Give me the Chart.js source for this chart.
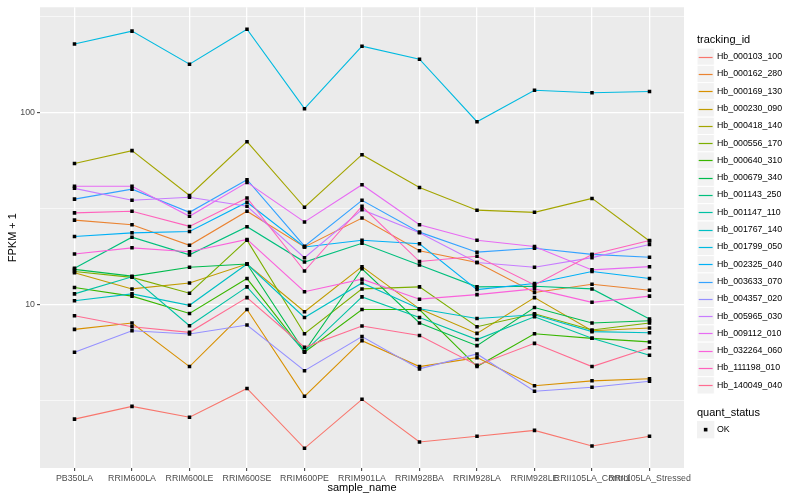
<!DOCTYPE html>
<html>
<head>
<meta charset="utf-8">
<script src="https://cdn.jsdelivr.net/npm/chart.js@4/dist/chart.umd.min.js"></script>
<style>
  html, body { margin: 0; padding: 0; background: #fff; }
  #wrap { width: 800px; height: 500px; }
</style>
</head>
<body>
<div id="wrap"><canvas id="fpkmChart" width="800" height="500"></canvas></div>
<script>
const sampleNames = ["PB350LA", "RRIM600LA", "RRIM600LE", "RRIM600SE", "RRIM600PE", "RRIM901LA",
    "RRIM928BA", "RRIM928LA", "RRIM928LE", "RRII105LA_Control", "RRII105LA_Stressed"];

const trackingIds = ["Hb_000103_100", "Hb_000162_280", "Hb_000169_130", "Hb_000230_090", "Hb_000418_140",
    "Hb_000556_170", "Hb_000640_310", "Hb_000679_340", "Hb_001143_250", "Hb_001147_110",
    "Hb_001767_140", "Hb_001799_050", "Hb_002325_040", "Hb_003633_070", "Hb_004357_020",
    "Hb_005965_030", "Hb_009112_010", "Hb_032264_060", "Hb_111198_010", "Hb_140049_040"];

// FPKM + 1 per sample
const hb000103_100 = [2.54, 2.96, 2.60, 3.67, 1.79, 3.22, 1.93, 2.07, 2.22, 1.84, 2.07];
const hb000162_280 = [27.6, 26.1, 20.4, 30.7, 20.0, 28.3, 19.1, 16.6, 11.6, 12.8, 11.9];
const hb000169_130 = [7.45, 8.04, 4.77, 9.45, 3.34, 6.51, 4.77, 5.31, 3.79, 4.02, 4.12];
const hb000230_090 = [14.7, 12.1, 13.0, 16.3, 9.20, 15.8, 9.53, 7.10, 10.9, 7.33, 7.57];
const hb000418_140 = [54.4, 63.5, 37.1, 70.7, 32.2, 60.5, 40.8, 31.1, 30.3, 35.8, 21.5];
const hb000556_170 = [14.9, 13.9, 11.5, 21.7, 7.07, 12.1, 12.4, 7.69, 8.98, 7.39, 8.04];
const hb000640_310 = [12.3, 11.1, 9.01, 13.7, 5.66, 9.45, 9.45, 4.77, 7.07, 6.69, 6.41];
const hb000679_340 = [15.3, 14.1, 15.7, 16.3, 5.71, 15.4, 8.04, 6.13, 9.68, 8.04, 8.26];
const hb001143_250 = [15.5, 22.5, 18.2, 25.5, 16.7, 20.9, 16.1, 12.4, 12.5, 12.1, 8.43];
const hb001147_110 = [11.4, 14.0, 7.78, 12.4, 5.71, 11.0, 8.59, 6.59, 8.67, 6.69, 5.46];
const hb001767_140 = [10.5, 11.4, 9.94, 16.3, 8.59, 13.0, 9.53, 8.49, 8.88, 7.25, 7.16];
const hb001799_050 = [228, 266, 179, 272, 105, 222, 190, 89.8, 131, 127, 129];
const hb002325_040 = [22.7, 23.7, 24.1, 34.2, 20.0, 21.7, 20.8, 12.0, 12.9, 14.9, 13.7];
const hb003633_070 = [35.5, 40.0, 30.3, 44.8, 20.2, 35.0, 23.9, 18.8, 19.7, 18.3, 17.7];
const hb004357_020 = [5.66, 7.33, 7.05, 7.85, 4.54, 6.83, 4.64, 5.55, 3.55, 3.72, 4.00];
const hb005965_030 = [40.4, 35.0, 36.3, 32.6, 17.6, 31.3, 23.7, 16.6, 15.7, 17.6, 20.6];
const hb009112_010 = [41.4, 41.4, 28.9, 43.4, 27.0, 42.2, 26.1, 21.7, 20.1, 15.2, 15.8];
const hb032264_060 = [18.4, 19.8, 18.9, 21.9, 11.7, 13.6, 10.7, 11.3, 12.1, 10.3, 11.1];
const hb111198_010 = [30.1, 30.7, 25.6, 36.0, 15.0, 32.6, 16.8, 17.9, 12.7, 18.3, 21.6];
const hb140049_040 = [8.77, 7.69, 7.19, 10.9, 6.01, 7.76, 6.93, 4.85, 6.30, 4.77, 5.97];

const seriesValues = [hb000103_100, hb000162_280, hb000169_130, hb000230_090, hb000418_140,
    hb000556_170, hb000640_310, hb000679_340, hb001143_250, hb001147_110,
    hb001767_140, hb001799_050, hb002325_040, hb003633_070, hb004357_020,
    hb005965_030, hb009112_010, hb032264_060, hb111198_010, hb140049_040];

const yBreaks = [3.1623, 10, 31.623, 100, 316.23];
const yLabels = ["", "10", "", "100", ""];

const lineColors = ["#F8766D", "#EA8331", "#D89000", "#C09B00", "#A3A500", "#7CAE00", "#39B600",
    "#00BB4E", "#00BF7D", "#00C1A3", "#00BFC4", "#00BAE0", "#00B0F6", "#35A2FF", "#9590FF",
    "#C77CFF", "#E76BF3", "#FA62DB", "#FF62BC", "#FF6C91"];

const fontFamily = '"Liberation Sans", Arial, Helvetica, sans-serif';

function isMajor(v) {
    return yLabels[yBreaks.indexOf(v)] !== "";
}

let datasets = [];
seriesValues.forEach((vals, k) => {
    datasets.push({
        label: trackingIds[k],
        data: vals.map((v, i) => ({x: i, y: v})),
        borderColor: lineColors[k],
        borderWidth: 1.1,
        pointRadius: 0,
        fill: false,
        order: 100 - k
    });
});
// points go on top of all lines, like geom_point after geom_line
seriesValues.forEach((vals, k) => {
    datasets.push({
        label: trackingIds[k] + " OK",
        data: vals.map((v, i) => ({x: i, y: v})),
        showLine: false,
        pointStyle: "rect",
        pointRadius: 2.5,
        pointBackgroundColor: "#000",
        pointBorderWidth: 0,
        order: 0
    });
});

const panelBg = {
    id: "panelBg",
    beforeDraw(chart) {
        const a = chart.chartArea;
        const ctx = chart.ctx;
        ctx.save();
        ctx.fillStyle = "#EBEBEB";
        ctx.fillRect(a.left, a.top, a.right - a.left, a.bottom - a.top);
        ctx.restore();
    }
};

const ggLegend = {
    id: "ggLegend",
    afterDraw(chart) {
        const ctx = chart.ctx;
        const key = 17.3;
        const x0 = 697;
        ctx.save();
        ctx.textBaseline = "middle";
        ctx.textAlign = "left";
        ctx.fillStyle = "#000";
        ctx.font = "11px " + fontFamily;
        ctx.fillText("tracking_id", x0, 40);
        trackingIds.forEach((id, i) => {
            let top = 48 + i * key;
            let mid = Math.round(top + key / 2) + 0.5;
            ctx.fillStyle = "#F2F2F2";
            ctx.fillRect(x0, top, key, key);
            ctx.strokeStyle = "#fff";
            ctx.lineWidth = 1;
            ctx.strokeRect(x0, top, key, key);
            ctx.strokeStyle = lineColors[i];
            ctx.lineWidth = 1.2;
            ctx.beginPath();
            ctx.moveTo(x0 + 1.7, mid);
            ctx.lineTo(x0 + key - 1.7, mid);
            ctx.stroke();
            ctx.fillStyle = "#000";
            ctx.font = "8.8px " + fontFamily;
            ctx.fillText(id, 717, top + key / 2);
        });

        ctx.font = "11px " + fontFamily;
        ctx.fillText("quant_status", x0, 413);
        let top = 421;
        ctx.fillStyle = "#F2F2F2";
        ctx.fillRect(x0, top, key, key);
        ctx.fillStyle = "#000";
        ctx.fillRect(x0 + key / 2 - 1.8, top + key / 2 - 1.8, 3.6, 3.6);
        ctx.font = "8.8px " + fontFamily;
        ctx.fillText("OK", 717, top + key / 2);
        ctx.restore();
    }
};

let ctx = document.getElementById("fpkmChart").getContext("2d");

new Chart(ctx, {
    type: "line",
    data: {datasets: datasets},
    options: {
        responsive: false,
        animation: false,
        devicePixelRatio: 1,
        layout: {padding: {top: 5, right: 116, bottom: 0, left: 0}},
        plugins: {
            legend: {display: false},
            tooltip: {enabled: false}
        },
        scales: {
            x: {
                type: "linear",
                min: -0.6,
                max: 10.6,
                bounds: "data",
                afterBuildTicks: s => { s.ticks = sampleNames.map((n, i) => ({value: i})); },
                afterFit: s => { s.height = 32; },
                border: {display: false},
                grid: {color: "#FFFFFF", lineWidth: 1.3, tickColor: "#333333", tickLength: 3, tickWidth: 1},
                ticks: {
                    autoSkip: false, maxRotation: 0, minRotation: 0, padding: 2,
                    color: "#4D4D4D", font: {size: 8.8, family: fontFamily},
                    callback: v => sampleNames[v]
                },
                title: {display: true, text: "sample_name", color: "#000", font: {size: 11, family: fontFamily},
                    padding: {top: 0, bottom: 5}}
            },
            y: {
                type: "logarithmic",
                min: 1.414,
                max: 354,
                bounds: "data",
                afterBuildTicks: s => { s.ticks = yBreaks.map(v => ({value: v})); },
                afterFit: s => { s.width = 40; },
                border: {display: false},
                grid: {
                    color: "#FFFFFF",
                    lineWidth: c => (c.tick && isMajor(c.tick.value)) ? 1.3 : 0.6,
                    tickColor: c => (c.tick && isMajor(c.tick.value)) ? "#333333" : "rgba(0,0,0,0)",
                    tickLength: 3,
                    tickWidth: 1
                },
                ticks: {
                    padding: 2, color: "#4D4D4D", font: {size: 8.8, family: fontFamily},
                    callback: (v, i) => yLabels[i]
                },
                title: {display: true, text: "FPKM + 1", color: "#000", font: {size: 11, family: fontFamily},
                    padding: {top: 6, bottom: 0}}
            }
        }
    },
    plugins: [panelBg, ggLegend]
});
</script>
</body>
</html>
